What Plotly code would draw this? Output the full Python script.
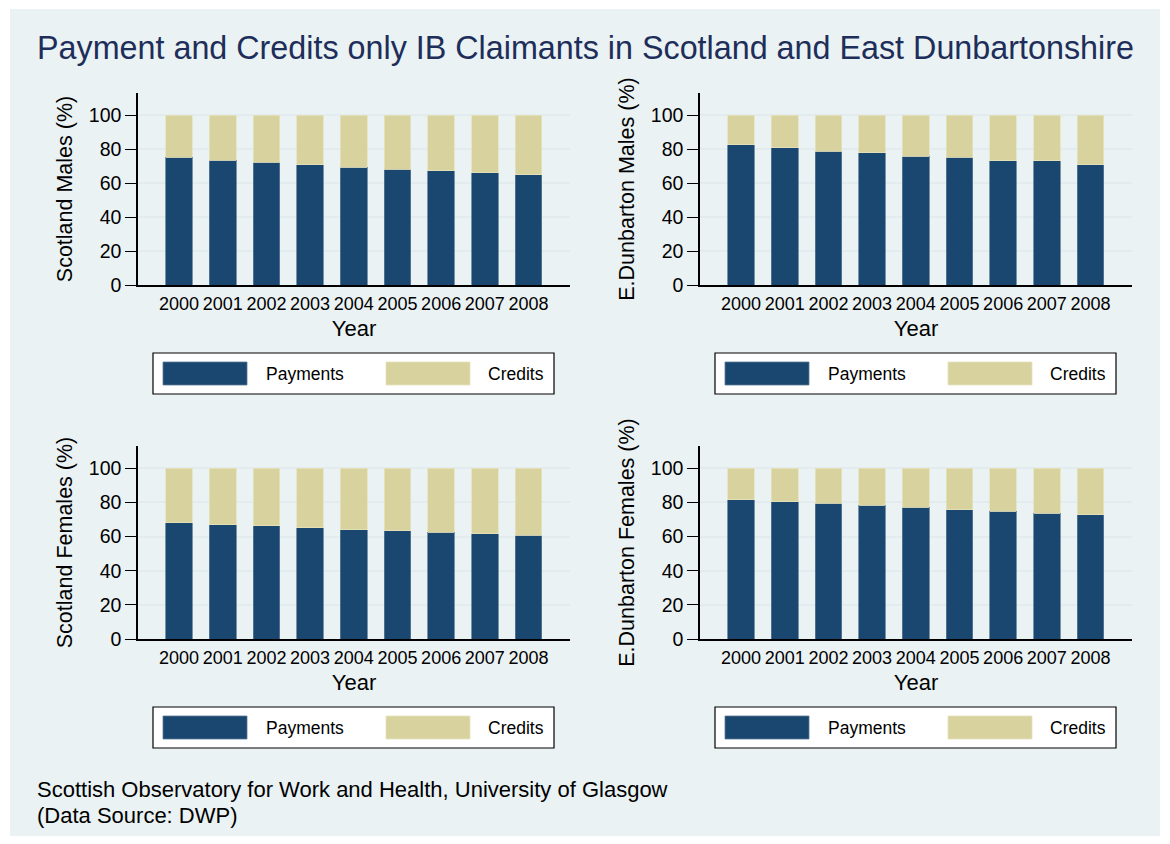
import plotly.graph_objects as go

W, H = 1170, 844

years = ["2000", "2001", "2002", "2003", "2004", "2005", "2006", "2007", "2008"]

scot_m_pay = [75.2, 73.5, 72.1, 70.9, 69.4, 68.0, 67.2, 66.0, 65.0]
scot_m_cred = [24.8, 26.5, 27.9, 29.1, 30.6, 32.0, 32.8, 34.0, 35.0]
edun_m_pay = [82.5, 80.7, 78.8, 77.8, 75.8, 75.2, 73.1, 73.1, 70.7]
edun_m_cred = [17.5, 19.3, 21.2, 22.2, 24.2, 24.8, 26.9, 26.9, 29.3]
scot_f_pay = [68.2, 67.0, 66.2, 65.0, 64.1, 63.5, 62.5, 61.7, 60.7]
scot_f_cred = [31.8, 33.0, 33.8, 35.0, 35.9, 36.5, 37.5, 38.3, 39.3]
edun_f_pay = [81.5, 80.4, 79.6, 78.2, 77.0, 75.6, 74.9, 73.7, 72.7]
edun_f_cred = [18.5, 19.6, 20.4, 21.8, 23.0, 24.4, 25.1, 26.3, 27.3]

y_ticks = [0, 20, 40, 60, 80, 100]
series_names = ["Payments", "Credits"]
panel_titles = ["Scotland Males (%)", "E.Dunbarton Males (%)",
                "Scotland Females (%)", "E.Dunbarton Females (%)"]
title_text = "Payment and Credits only IB Claimants in Scotland and East Dunbartonshire"
footer_lines = ["Scottish Observatory for Work and Health, University of Glasgow",
                "(Data Source: DWP)"]

PAY_COLOR = "#1a476f"
CRED_COLOR = "#d8d29e"
BG = "#eaf2f3"
GRID = "#e2ebee"
TITLE_COLOR = "#1e2e5a"
FONT = "Liberation Sans, Arial, sans-serif"


def px_x(x):
    return x / W


def px_y(y):
    return 1 - y / H


panels = [
    (scot_m_pay, scot_m_cred, 138, 570, 93, 285),
    (edun_m_pay, edun_m_cred, 700, 1132, 93, 285),
    (scot_f_pay, scot_f_cred, 138, 570, 446, 639),
    (edun_f_pay, edun_f_cred, 700, 1132, 446, 639),
]

fig = go.Figure()
layout = {}
shapes = []
annotations = []

# background frame
shapes.append(dict(type="rect", xref="paper", yref="paper",
                   x0=px_x(10), x1=px_x(1160), y0=px_y(836), y1=px_y(9),
                   fillcolor=BG, line=dict(width=0), layer="below"))

for i, (pay, cred, x0, x1, y0, y1) in enumerate(panels):
    n = "" if i == 0 else str(i + 1)
    xa, ya = "x" + n, "y" + n
    fig.add_trace(go.Bar(x=years, y=pay, name=series_names[0], xaxis=xa, yaxis=ya,
                         marker=dict(color=PAY_COLOR, line=dict(color="#5c7a96", width=0.8)),
                         showlegend=False))
    fig.add_trace(go.Bar(x=years, y=cred, name=series_names[1], xaxis=xa, yaxis=ya,
                         marker=dict(color=CRED_COLOR, line=dict(color="#e6e2bd", width=0.8)),
                         showlegend=False))
    layout["xaxis" + n] = dict(
        domain=[px_x(x0), px_x(x1)], anchor=ya, type="category", automargin=False,
        range=[-0.94, 8.95], showline=True, linecolor="black", linewidth=1.5,
        ticks="outside", ticklen=2, tickcolor="rgba(0,0,0,0)",
        showgrid=False, tickfont=dict(size=18, color="black", family=FONT),
        title=dict(text="Year", font=dict(size=22, color="black", family=FONT), standoff=7),
        fixedrange=True)
    layout["yaxis" + n] = dict(
        domain=[px_y(y1), px_y(y0)], anchor=xa, range=[0, 113], automargin=False,
        tickvals=y_ticks, showline=True, linecolor="black", linewidth=1.5,
        ticks="outside", ticklen=11, tickwidth=1.2, tickcolor="black",
        showgrid=True, gridcolor=GRID, gridwidth=1.5, zeroline=False,
        tickfont=dict(size=19.5, color="black", family=FONT),
        title=dict(text=panel_titles[i], font=dict(size=21.5, color="black", family=FONT),
                   standoff=10),
        fixedrange=True)

    # legend box (drawn per panel, like the original)
    lx0, ly0 = x0 + 15, y1 + 68
    lx1, ly1 = lx0 + 401, ly0 + 41
    shapes.append(dict(type="rect", xref="paper", yref="paper",
                       x0=px_x(lx0), x1=px_x(lx1), y0=px_y(ly1), y1=px_y(ly0),
                       fillcolor="white", line=dict(color="black", width=1.2)))
    sw = [(lx0 + 10, PAY_COLOR, "#5c7a96", series_names[0], lx0 + 111),
          (lx0 + 233, CRED_COLOR, "#e6e2bd", series_names[1], lx0 + 333)]
    for sx, col, lcol, label, tx in sw:
        shapes.append(dict(type="rect", xref="paper", yref="paper",
                           x0=px_x(sx), x1=px_x(sx + 84), y0=px_y(ly0 + 32), y1=px_y(ly0 + 9),
                           fillcolor=col, line=dict(color=lcol, width=0.8)))
        annotations.append(dict(text=label, xref="paper", yref="paper",
                                x=px_x(tx), y=px_y(ly0 + 21), xanchor="left", yanchor="middle",
                                showarrow=False, font=dict(size=17.5, color="black", family=FONT)))

annotations.append(dict(text=title_text, xref="paper", yref="paper",
                        x=px_x(585), y=px_y(48), xanchor="center", yanchor="middle",
                        showarrow=False, font=dict(size=32.3, color=TITLE_COLOR, family=FONT)))
annotations.append(dict(text=footer_lines[0], xref="paper", yref="paper",
                        x=px_x(35), y=px_y(789), xanchor="left", yanchor="middle",
                        showarrow=False, font=dict(size=22, color="black", family=FONT)))
annotations.append(dict(text=footer_lines[1], xref="paper", yref="paper",
                        x=px_x(35), y=px_y(815), xanchor="left", yanchor="middle",
                        showarrow=False, font=dict(size=22, color="black", family=FONT)))

fig.update_layout(
    width=W, height=H, autosize=False,
    margin=dict(l=0, r=0, t=0, b=0, pad=0, autoexpand=False),
    paper_bgcolor="white", plot_bgcolor="white",
    barmode="stack", bargap=0.39,
    font=dict(family=FONT, color="black"),
    shapes=shapes, annotations=annotations,
    showlegend=False,
    **layout,
)

post = (
    "document.documentElement.style.margin='0';"
    "document.documentElement.style.overflow='hidden';"
    "document.body.style.margin='0';"
    "document.body.style.overflow='hidden';"
    "var d=document.getElementById('{plot_id}');"
    "d.style.position='fixed';d.style.left='0px';d.style.top='0px';"
)
fig.write_html("out.html", config={"displayModeBar": False}, post_script=post)
